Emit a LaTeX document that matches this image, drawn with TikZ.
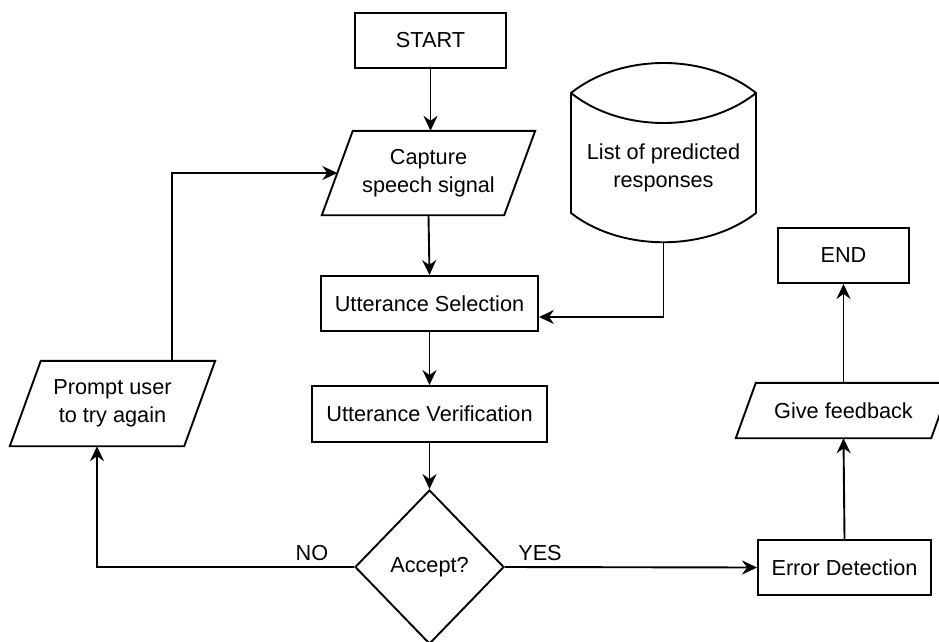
\documentclass[tikz,border=0pt]{standalone}
\usepackage{fontspec}
\setmainfont{Liberation Sans}
\usetikzlibrary{arrows.meta,shapes.geometric,calc}
\begin{document}
\begin{tikzpicture}[x=1pt,y=-1pt,
  every node/.style={font=\fontsize{21.7pt}{28pt}\selectfont, inner sep=0pt},
  proc/.style={draw, line width=1.9pt, rectangle, align=center},
  iobox/.style={rectangle, align=center},
  decbox/.style={draw, line width=1.9pt, diamond, minimum width=149pt, minimum height=154pt},
  lbl/.style={},
  shp/.style={draw, line width=1.9pt, line join=miter},
  arr/.style={draw, line width=1.9pt, -{Stealth[length=15pt,width=14pt,inset=5pt]}},
  conn/.style={draw, line width=1.9pt}
]
\useasboundingbox (0,0) rectangle (939,642);

% process boxes
\node[proc, minimum width=151pt, minimum height=55pt] (start) at (430.5,40.5) {START};
\node[proc, minimum width=217pt, minimum height=55pt] (sel) at (429.5,303.5) {Utterance Selection};
\node[proc, minimum width=235pt, minimum height=56pt] (ver) at (429.5,414) {Utterance Verification};
\node[proc, minimum width=173pt, minimum height=55pt] (err) at (844.5,567.5) {Error Detection};
\node[proc, minimum width=131pt, minimum height=55pt] (end) at (843.5,255.5) {END};
\node[decbox] (dec) at (429.5,567) {Accept?};

% parallelograms (input/output)
\node[iobox, minimum width=182pt, minimum height=84pt] (cap) at (428.5,173) {Capture\\speech signal};
\draw[shp] ([xshift=15.5pt]cap.north west) -- ([xshift=15.5pt]cap.north east)
  -- ([xshift=-15.5pt]cap.south east) -- ([xshift=-15.5pt]cap.south west) -- cycle;

\node[iobox, minimum width=174pt, minimum height=85pt] (prompt) at (112.5,403.5) {Prompt user\\to try again};
\draw[shp] ([xshift=15.5pt]prompt.north west) -- ([xshift=15.5pt]prompt.north east)
  -- ([xshift=-15.5pt]prompt.south east) -- ([xshift=-15.5pt]prompt.south west) -- cycle;

\node[iobox, minimum width=195pt, minimum height=55pt] (fb) at (843.5,410.5) {Give feedback};
\draw[shp] ([xshift=10pt]fb.north west) -- ([xshift=10pt]fb.north east)
  -- ([xshift=-10pt]fb.south east) -- ([xshift=-10pt]fb.south west) -- cycle;

% data store (cylinder)
\node[iobox, minimum width=185pt, minimum height=179pt] (db) at (663.5,152.5) {};
\node[align=center] (dbtext) at (663.5,168) {List of predicted\\responses};
\draw[shp] (571,93) .. controls (621,53) and (706,53) .. (756,93)
  -- (756,213) .. controls (706,252) and (621,252) .. (571,213) -- cycle;
\draw[shp] (571,93) .. controls (621,133) and (706,133) .. (756,93);

% connectors
\draw[arr] (start.south) -- (start.south |- cap.north);
\draw[arr] (cap.south) -- (sel.north);
\draw[arr] (sel.south) -- (ver.north);
\draw[arr] (ver.south) -- (dec.north);
\draw[arr] (dec.east) -- (err.west);
\draw[arr] (dec.west) -| ([xshift=-15.5pt]prompt.south);
\draw[arr] ([xshift=59.5pt]prompt.north) |- (cap.west);
\draw[arr] (db.south) |- ([yshift=-13.5pt]sel.east);
\draw[arr] (err.north) -- (fb.south);
\draw[arr] (fb.north) -- (end.south);

% labels
\node[lbl] (no) at (312,553) {NO};
\node[lbl] (yes) at (540,553) {YES};
\end{tikzpicture}
\end{document}
